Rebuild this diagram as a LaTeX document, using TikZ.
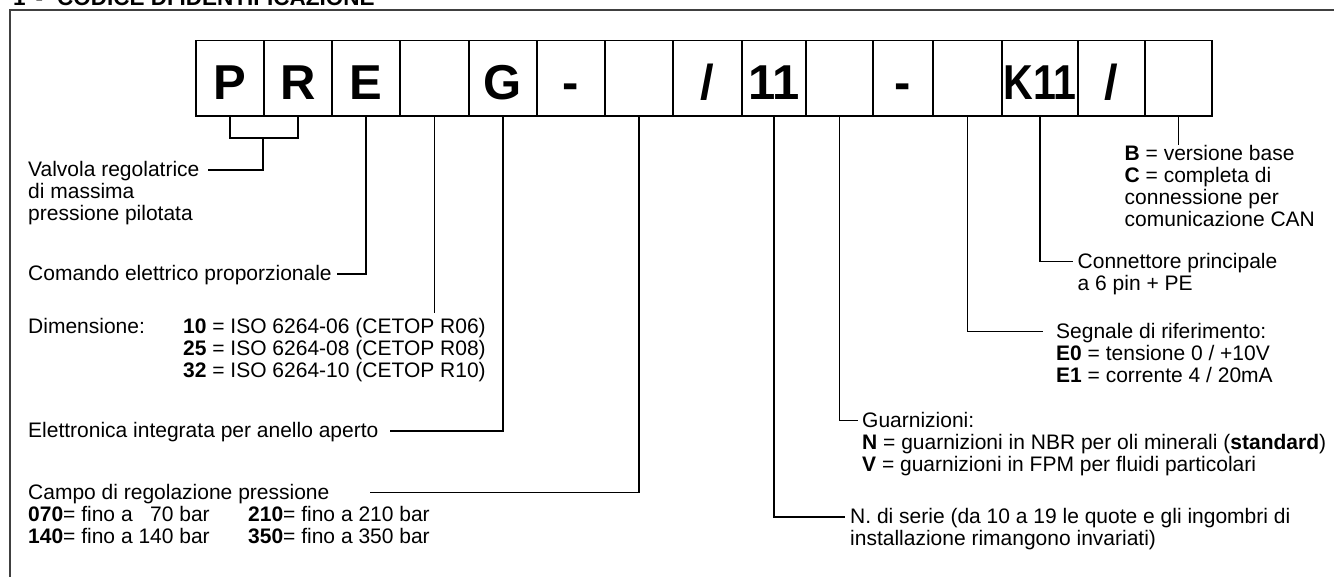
\documentclass[tikz,border=0pt]{standalone}
\usepackage{fontspec}
\setmainfont{Liberation Sans}
\newcommand{\mlines}[1]{\begin{tabular}[t]{@{}l@{}}#1\end{tabular}}
\begin{document}
\begin{tikzpicture}[x=1pt,y=-1pt,
  cell/.style={draw, line width=1.2pt, minimum width=#1, minimum height=75.3pt,
    inner sep=0pt, text height=43pt, text depth=0pt,
    font=\fontsize{49}{49}\selectfont\bfseries},
  lbl/.style={anchor=base west, inner sep=0pt,
    font=\fontsize{21}{22}\selectfont},
  conn/.style={line width=1.1pt},
  frame/.style={draw=black!75, line width=1.5pt}]
\useasboundingbox (0,0) rectangle (1334,576);
\clip (0,0) rectangle (1334,576);
% heading (cut by the top edge)
\node[anchor=base west, inner sep=0pt, font=\fontsize{22.5}{22.5}\selectfont\bfseries]
  (head) at (13,5) {1\hspace{10pt}-\hspace{14pt}CODICE DI IDENTIFICAZIONE};
% outer frame
\draw[frame] (10,10) rectangle (1350,600);
% code cells
\node[cell=68pt]  (c1)  at (230,78.35)    {P};
\node[cell=68pt]  (c2)  at (298,78.35)    {R};
\node[cell=68pt]  (c3)  at (366,78.35)    {E};
\node[cell=69pt]  (c4)  at (434.5,78.35)  {};
\node[cell=68pt]  (c5)  at (503,78.35)    {G};
\node[cell=68pt]  (c6)  at (571,78.35)    {-};
\node[cell=68pt]  (c7)  at (639,78.35)    {};
\node[cell=69pt]  (c8)  at (707.5,78.35)  {/};
\node[cell=64pt]  (c9)  at (774,78.35)    {11};
\node[cell=67pt]  (c10) at (839.5,78.35)  {};
\node[cell=60pt]  (c11) at (903,78.35)    {-};
\node[cell=69pt]  (c12) at (967.5,78.35)  {};
\node[cell=76pt]  (c13) at (1040,78.35)   {\scalebox{0.84}[1]{K11}};
\node[cell=67pt]  (c14) at (1111.5,78.35) {/};
\node[cell=67pt]  (c15) at (1178.5,78.35) {};
% left labels
\node[lbl] (valv) at (28,176.7) {\mlines{Valvola regolatrice\\di massima\\pressione pilotata}};
\node[lbl] (coma) at (28,280) {Comando elettrico proporzionale};
\node[lbl] (dimt) at (28,333) {Dimensione:};
\node[lbl] (dimv) at (183,333) {\mlines{\textbf{10} = ISO 6264-06 (CETOP R06)\\\textbf{25} = ISO 6264-08 (CETOP R08)\\\textbf{32} = ISO 6264-10 (CETOP R10)}};
\node[lbl] (elet) at (28,437.5) {Elettronica integrata per anello aperto};
\node[lbl] (camp) at (28,499) {\mlines{Campo di regolazione pressione\\\textbf{070}= fino a \phantom{1}70 bar\\\textbf{140}= fino a 140 bar}};
\node[lbl] (camr) at (248,521) {\mlines{\textbf{210}= fino a 210 bar\\\textbf{350}= fino a 350 bar}};
% right labels
\node[lbl] (vers) at (1124.5,160) {\mlines{\textbf{B} = versione base\\\textbf{C} = completa di\\connessione per\\comunicazione CAN}};
\node[lbl] (conn) at (1077.5,268) {\mlines{Connettore principale\\a 6 pin + PE}};
\node[lbl] (segn) at (1056,338) {\mlines{Segnale di riferimento:\\\textbf{E0} = tensione 0 / +10V\\\textbf{E1} = corrente 4 / 20mA}};
\node[lbl] (guar) at (862,427) {\mlines{Guarnizioni:\\\textbf{N} = guarnizioni in NBR per oli minerali (\textbf{standard})\\\textbf{V} = guarnizioni in FPM per fluidi particolari}};
\node[lbl] (seri) at (850,523.5) {\mlines{N. di serie (da 10 a 19 le quote e gli ingombri di\\installazione rimangono invariati)}};
% connector free ends
\coordinate (brk) at (263,138);
\coordinate (valvE) at (208,170);
\coordinate (comaE) at (337,274);
\coordinate (dimE) at (434.5,313);
\coordinate (eletE) at (390,431);
\coordinate (campE) at (370,492.5);
\coordinate (seriE) at (845,517);
\coordinate (guarE) at (858,420.5);
\coordinate (segnE) at (1043,331.5);
\coordinate (connE) at (1073,261.5);
\coordinate (versE) at (1178.5,145);
% connectors
\draw[conn] (c1.south) |- (brk) -| (c2.south);
\draw[conn] (brk) |- (valvE);
\draw[conn] (c3.south) |- (comaE);
\draw[conn] (c4.south) -- (dimE);
\draw[conn] (c5.south) |- (eletE);
\draw[conn] (c7.south) |- (campE);
\draw[conn] (c9.south) |- (seriE);
\draw[conn] (c10.south) |- (guarE);
\draw[conn] (c12.south) |- (segnE);
\draw[conn] (c13.south) |- (connE);
\draw[conn] (c15.south) -- (versE);
\end{tikzpicture}
\end{document}
